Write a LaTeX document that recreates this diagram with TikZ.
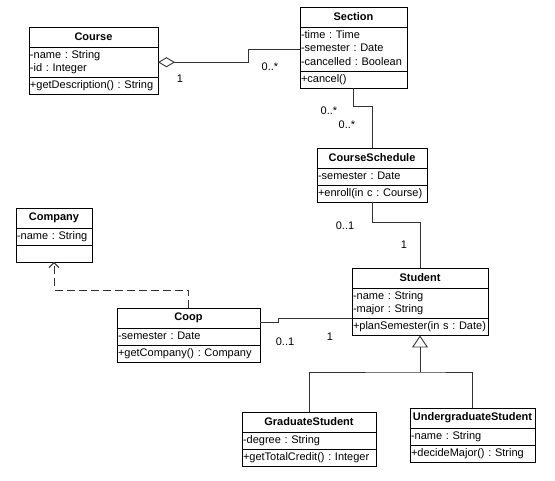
\documentclass[tikz,border=0pt]{standalone}
\usepackage{fontspec}
\setmainfont{Liberation Sans}
\usepackage{tikz}
\usetikzlibrary{arrows.meta, positioning}
\usepackage{xcolor}
\newcommand{\umlfont}{\fontsize{11}{13.5}\selectfont\frenchspacing}
\tikzset{
  classtitle/.style = {rectangle, draw, fill=white, anchor=north west, outer sep=0pt, inner sep=0pt, minimum height=20pt, font=\umlfont\bfseries},
  classpart/.style = {rectangle, draw, fill=white, outer sep=0pt, inner xsep=1pt, inner ysep=1.75pt, align=left, font=\umlfont, execute at begin node={\noindent\strut}, execute at end node={\strut}},
  mult/.style = {inner sep=0pt, font=\umlfont},
  connector/.style = {draw=black!80, line width=0.9pt},
  aggregation/.style = {connector, {Diamond[open, length=17pt, width=10pt]}-},
  generalization/.style = {connector, -{Triangle[open, length=12pt, width=16pt]}},
  dependency/.style = {connector, dash pattern=on 8pt off 4pt, -{Straight Barb[length=5pt, width=10pt]}}
}

\begin{document}
\begin{tikzpicture}[x=1pt, y=-1pt, line width=0.9pt]
\path[use as bounding box, fill=white] (0,0) rectangle (555,481);

\node[classtitle, minimum width=129pt] (course) at (29,27) {Course};
\node[classpart, text width=127pt, below=0pt of course] (course-attr) {-name : String\\-id : Integer};
\node[classpart, text width=127pt, below=0pt of course-attr] (course-ops) {+getDescription() : String};

\node[classtitle, minimum width=107pt] (section) at (300,7) {Section};
\node[classpart, text width=105pt, below=0pt of section] (section-attr) {-time : Time\\-semester : Date\\-cancelled : Boolean};
\node[classpart, text width=105pt, below=0pt of section-attr] (section-ops) {+cancel()};

\node[classtitle, minimum width=110pt] (schedule) at (317,148) {CourseSchedule};
\node[classpart, text width=108pt, below=0pt of schedule] (schedule-attr) {-semester : Date};
\node[classpart, text width=108pt, below=0pt of schedule-attr] (schedule-ops) {+enroll(in c : Course)};

\node[classtitle, minimum width=76pt] (company) at (16,208) {Company};
\node[classpart, text width=74pt, below=0pt of company] (company-attr) {-name : String};
\node[classpart, text width=74pt, below=0pt of company-attr] (company-ops) {};

\node[classtitle, minimum width=143pt] (coop) at (117,308) {Coop};
\node[classpart, text width=141pt, below=0pt of coop] (coop-attr) {-semester : Date};
\node[classpart, text width=141pt, below=0pt of coop-attr] (coop-ops) {+getCompany() : Company};

\node[classtitle, minimum width=136pt] (student) at (352,268) {Student};
\node[classpart, text width=134pt, below=0pt of student] (student-attr) {-name : String\\-major : String};
\node[classpart, text width=134pt, below=0pt of student-attr] (student-ops) {+planSemester(in s : Date)};

\node[classtitle, minimum width=134pt] (grad) at (242,412) {GraduateStudent};
\node[classpart, text width=132pt, below=0pt of grad] (grad-attr) {-degree : String};
\node[classpart, text width=132pt, below=0pt of grad-attr] (grad-ops) {+getTotalCredit() : Integer};

\node[classtitle, minimum width=125pt] (under) at (410,408) {UndergraduateStudent};
\node[classpart, text width=123pt, below=0pt of under] (under-attr) {-name : String};
\node[classpart, text width=123pt, below=0pt of under-attr] (under-ops) {+decideMajor() : String};

\node[mult] (m-course) at (180,79) {1};
\node[mult] (m-section) at (270,67) {0..*};
\node[mult] (m-section2) at (329,111) {0..*};
\node[mult] (m-schedule) at (347,125) {0..*};
\node[mult] (m-schedule2) at (345,226) {0..1};
\node[mult] (m-student) at (404,245) {1};
\node[mult] (m-coop) at (285,342) {0..1};
\node[mult] (m-student2) at (330,337) {1};

\coordinate (genjoin) at (420,372);

\draw[aggregation] (course-attr.east) -- ++(90,0) |- (section-attr.west);
\draw[connector] (section-ops.south) -- ++(0,18) -| (schedule.north);
\draw[connector] (schedule-ops.south) -- ++(0,20) -| (student.north);
\draw[connector] ([yshift=-4.5pt]coop.east) -- ++(18,0) |- (student-attr.south west);
\draw[dependency] (coop.north) -- ++(0,-18) -| (company-ops.south);
\draw[generalization] (genjoin) -- (student-ops.south);
\draw[connector] (grad.north) |- (genjoin) -| (under.north);
\end{tikzpicture}
\end{document}
